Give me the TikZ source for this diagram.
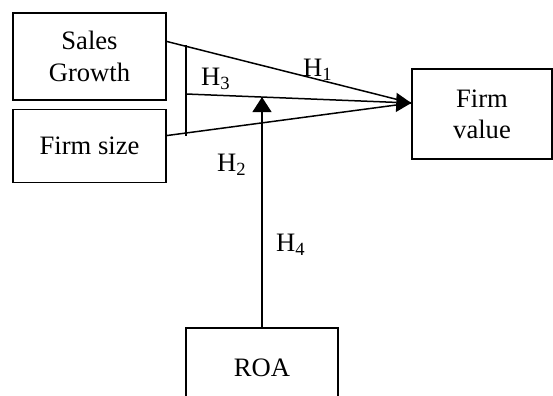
\documentclass[tikz,border=0pt]{standalone}
\usepackage{fontspec}
\setmainfont{Liberation Serif}
\usepackage{tikz}
\usetikzlibrary{arrows.meta,calc,positioning}
\tikzset{
  box/.style  = {draw, line width=0.75pt, rectangle, align=center, inner sep=2pt,
                 font=\fontsize{13.3}{15.6}\selectfont},
  hyp/.style  = {inner sep=1pt, font=\fontsize{13.3}{15.6}\selectfont},
  link/.style = {line width=0.75pt},
  tip/.style  = {-{Triangle[length=7.5pt,width=9.5pt]}}
}

\begin{document}
\begin{tikzpicture}[x=0.5pt,y=-0.5pt]
\useasboundingbox (0,0) rectangle (553,396);
\node[box, minimum width=76.5pt, minimum height=43.5pt] (sales) at (89.5,56.5) {Sales\\Growth};
\node[box, minimum width=76.5pt, minimum height=36.5pt] (size) at (89.5,146) {Firm size};
\node[box, minimum width=70pt, minimum height=45pt] (value) at (482,114) {Firm\\value};
\node[box, minimum width=76pt, minimum height=40pt] (roa) at (262,368) {ROA};

% interaction bar
\coordinate (bartop) at (186,45);
\coordinate (barbot) at (186,136);
\coordinate (barmid) at (186,94);
\coordinate (sgout) at ($(sales.north east)!0.33!(sales.south east)$);
\coordinate (fsout) at ($(size.north east)!0.36!(size.south east)$);
\coordinate (vin) at ($(value.north west)!0.38!(value.south west)$);
\coordinate (mod) at ($(barmid)!0.34!(vin)$);

\draw[link] (bartop) -- (barbot);
\draw[link] (sgout) -- (vin);
\draw[link] (fsout) -- (vin);
\draw[link,tip] (barmid) -- (vin);
\draw[link,tip] (roa.north) -- (roa.north |- mod);

\node[hyp] (h1) at (318,70) {H\textsubscript{1}};
\node[hyp] (h3) at (216,79) {H\textsubscript{3}};
\node[hyp] (h2) at (232,165) {H\textsubscript{2}};
\node[hyp] (h4) at (291,245) {H\textsubscript{4}};
\end{tikzpicture}
\end{document}
